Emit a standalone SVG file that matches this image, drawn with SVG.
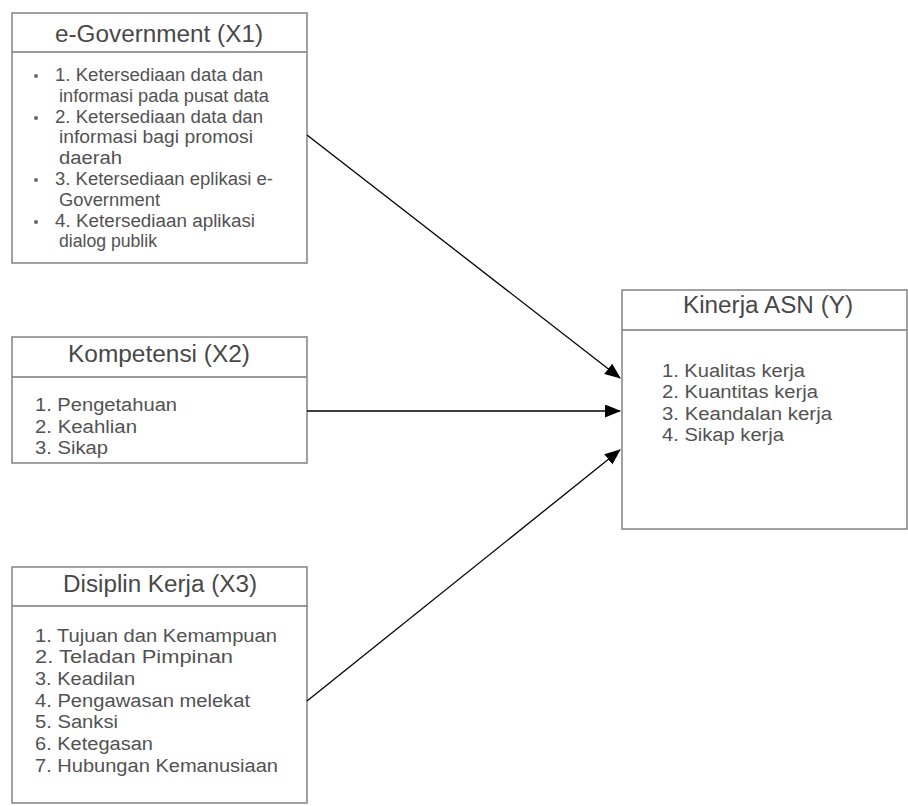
<svg xmlns="http://www.w3.org/2000/svg" width="908" height="806" viewBox="0 0 908 806">
<style>
.box{fill:#fff;stroke:#8a8a8a;stroke-width:1.6}
.sep{stroke:#7a7a7a;stroke-width:1.6}
.title{font-family:"Liberation Sans",Arial,sans-serif;font-size:23px;fill:#484848;text-anchor:middle}
.body{font-family:"Liberation Sans",Arial,sans-serif;font-size:18px;fill:#525252}
.bul{fill:#666}
.conn{stroke:#000;stroke-width:1.3;fill:none}
</style>
<defs>
<marker id="arr" markerWidth="16" markerHeight="14" refX="15" refY="6.5" orient="auto" markerUnits="userSpaceOnUse">
<path d="M0,0 L16,6.5 L0,13 z" fill="#000"/>
</marker>
</defs>
<rect width="908" height="806" fill="#fff"/>
<g id="x1">
<rect class="box" x="12" y="13" width="295" height="250"/>
<line class="sep" x1="12" y1="52" x2="307" y2="52"/>
<text class="title" x="159" y="42" textLength="208" lengthAdjust="spacingAndGlyphs">e-Government (X1)</text>
<circle class="bul" cx="36" cy="76" r="2"/>
<circle class="bul" cx="36" cy="118" r="2"/>
<circle class="bul" cx="36" cy="180" r="2"/>
<circle class="bul" cx="36" cy="222" r="2"/>
<text class="body" x="55" y="81" textLength="208" lengthAdjust="spacingAndGlyphs">1. Ketersediaan data dan</text>
<text class="body" x="59" y="102" textLength="210" lengthAdjust="spacingAndGlyphs">informasi pada pusat data</text>
<text class="body" x="55" y="123" textLength="208" lengthAdjust="spacingAndGlyphs">2. Ketersediaan data dan</text>
<text class="body" x="59" y="143" textLength="194" lengthAdjust="spacingAndGlyphs">informasi bagi promosi</text>
<text class="body" x="59" y="164" textLength="63" lengthAdjust="spacingAndGlyphs">daerah</text>
<text class="body" x="55" y="185" textLength="218" lengthAdjust="spacingAndGlyphs">3. Ketersediaan eplikasi e-</text>
<text class="body" x="59" y="206" textLength="101" lengthAdjust="spacingAndGlyphs">Government</text>
<text class="body" x="55" y="227" textLength="200" lengthAdjust="spacingAndGlyphs">4. Ketersediaan aplikasi</text>
<text class="body" x="59" y="247" textLength="98" lengthAdjust="spacingAndGlyphs">dialog publik</text>
</g>
<g id="x2">
<rect class="box" x="12" y="337" width="295" height="126"/>
<line class="sep" x1="12" y1="377" x2="307" y2="377"/>
<text class="title" x="159" y="362" textLength="182" lengthAdjust="spacingAndGlyphs">Kompetensi (X2)</text>
<text class="body" x="35" y="411" textLength="142" lengthAdjust="spacingAndGlyphs">1. Pengetahuan</text>
<text class="body" x="35" y="433" textLength="102" lengthAdjust="spacingAndGlyphs">2. Keahlian</text>
<text class="body" x="35" y="454" textLength="73" lengthAdjust="spacingAndGlyphs">3. Sikap</text>
</g>
<g id="x3">
<rect class="box" x="12" y="567" width="295" height="236"/>
<line class="sep" x1="12" y1="606" x2="307" y2="606"/>
<text class="title" x="160" y="592" textLength="194" lengthAdjust="spacingAndGlyphs">Disiplin Kerja (X3)</text>
<text class="body" x="35" y="642" textLength="242" lengthAdjust="spacingAndGlyphs">1. Tujuan dan Kemampuan</text>
<text class="body" x="35" y="663" textLength="198" lengthAdjust="spacingAndGlyphs">2. Teladan Pimpinan</text>
<text class="body" x="35" y="685" textLength="100" lengthAdjust="spacingAndGlyphs">3. Keadilan</text>
<text class="body" x="35" y="707" textLength="215" lengthAdjust="spacingAndGlyphs">4. Pengawasan melekat</text>
<text class="body" x="35" y="728" textLength="83" lengthAdjust="spacingAndGlyphs">5. Sanksi</text>
<text class="body" x="35" y="750" textLength="118" lengthAdjust="spacingAndGlyphs">6. Ketegasan</text>
<text class="body" x="35" y="772" textLength="243" lengthAdjust="spacingAndGlyphs">7. Hubungan Kemanusiaan</text>
</g>
<g id="y">
<rect class="box" x="622" y="290" width="285" height="239"/>
<line class="sep" x1="622" y1="330" x2="907" y2="330"/>
<text class="title" x="768" y="313" textLength="170" lengthAdjust="spacingAndGlyphs">Kinerja ASN (Y)</text>
<text class="body" x="662" y="377" textLength="143" lengthAdjust="spacingAndGlyphs">1. Kualitas kerja</text>
<text class="body" x="662" y="398" textLength="156" lengthAdjust="spacingAndGlyphs">2. Kuantitas kerja</text>
<text class="body" x="662" y="420" textLength="170" lengthAdjust="spacingAndGlyphs">3. Keandalan kerja</text>
<text class="body" x="662" y="441" textLength="122" lengthAdjust="spacingAndGlyphs">4. Sikap kerja</text>
</g>
<g id="connectors">
<line class="conn" x1="307" y1="135" x2="620" y2="378" marker-end="url(#arr)"/>
<line class="conn" x1="307" y1="411" x2="620" y2="411" marker-end="url(#arr)"/>
<line class="conn" x1="307" y1="701" x2="620" y2="450" marker-end="url(#arr)"/>
</g>
</svg>
